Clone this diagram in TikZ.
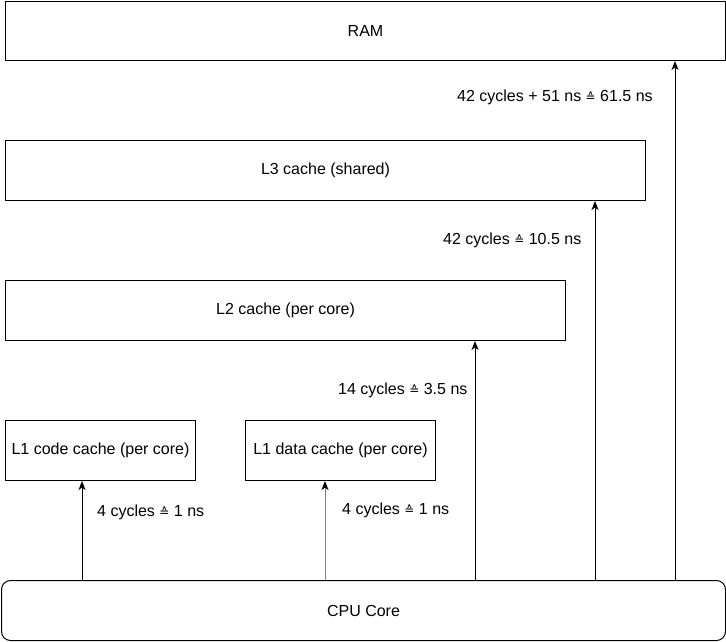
\documentclass[tikz,border=0pt]{standalone}
\usepackage{fontspec}
\setmainfont{Liberation Sans}
\newfontfamily\dejavu{DejaVu Sans}
\usetikzlibrary{arrows.meta}
\definecolor{arrgray}{RGB}{128,128,128}
\newcommand{\esti}{{\dejavu\fontsize{12}{14}\selectfont ≙}}
\begin{document}
\begin{tikzpicture}[x=1pt,y=-1pt,
  box/.style={draw=black,line width=1pt,fill=white,font=\fontsize{16}{19}\selectfont},
  lbl/.style={anchor=west,inner sep=0pt,font=\fontsize{16}{19}\selectfont},
  arr/.style={line width=1pt,-{Stealth[length=9pt,width=7pt,inset=2.5pt,color=black]}}]
\useasboundingbox (0,0) rectangle (726,641);
% boxes
\node[box,minimum width=720pt,minimum height=59pt,anchor=north west] (ramb) at (5,1) {RAM};
\node[box,minimum width=640pt,minimum height=60pt,anchor=north west] (l3) at (5,140) {L3 cache (shared)};
\node[box,minimum width=560pt,minimum height=60pt,anchor=north west] (l2) at (5,280) {L2 cache (per core)};
\node[box,minimum width=190pt,minimum height=60pt,anchor=north west] (l1c) at (5,420) {L1 code cache (per core)};
\node[box,minimum width=190pt,minimum height=60pt,anchor=north west] (l1d) at (245,420) {L1 data cache (per core)};
\node[box,rounded corners=9pt,minimum width=724pt,minimum height=60pt,anchor=north west] (cpu) at (1,580) {CPU Core};
% arrow x positions
\coordinate (a1) at (82,0);
\coordinate (a2) at (325,0);
\coordinate (a3) at (475,0);
\coordinate (a4) at (595,0);
\coordinate (a5) at (675,0);
\draw[arr] (cpu.north -| a1) -- (l1c.south -| a1);
\draw[arr,draw=arrgray] (cpu.north -| a2) -- (l1d.south -| a2);
\draw[arr] (cpu.north -| a3) -- (l2.south -| a3);
\draw[arr] (cpu.north -| a4) -- (l3.south -| a4);
\draw[arr] (cpu.north -| a5) -- (ramb.south -| a5);
% labels
\node[lbl] (t1) at (97,512.5) {4 cycles \esti{} 1 ns};
\node[lbl] (t2) at (342,510) {4 cycles \esti{} 1 ns};
\node[lbl] (t3) at (338,390) {14 cycles \esti{} 3.5 ns};
\node[lbl] (t4) at (443,240) {42 cycles \esti{} 10.5 ns};
\node[lbl] (t5) at (457,97) {42 cycles + 51 ns \esti{} 61.5 ns};
\end{tikzpicture}
\end{document}
